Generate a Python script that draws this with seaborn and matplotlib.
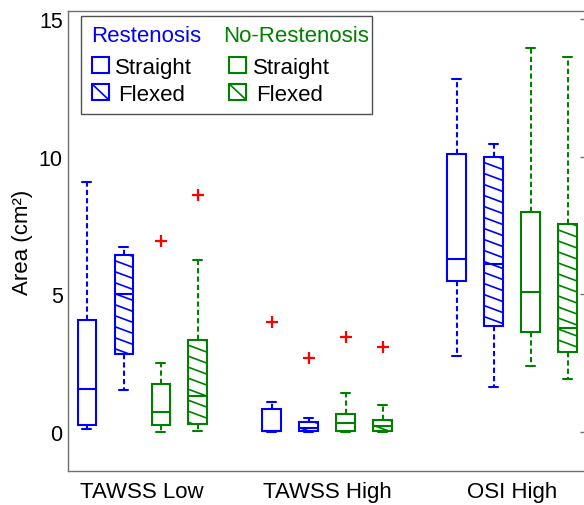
import numpy as np
import pandas as pd
import seaborn as sns
import matplotlib.pyplot as plt
from matplotlib.patches import Rectangle
from matplotlib.lines import Line2D

regions = ["TAWSS Low", "TAWSS High", "OSI High"]
series = ["Restenosis Straight", "Restenosis Flexed",
          "No-Restenosis Straight", "No-Restenosis Flexed"]

# [lower whisker, Q1, median, Q3, upper whisker] for each region
rest_straight = [[0.09, 0.27, 1.56, 4.07, 9.09],
                 [0.00, 0.02, 0.03, 0.85, 1.10],
                 [2.76, 5.47, 6.28, 10.09, 12.84]]
rest_flexed = [[1.52, 2.85, 5.03, 6.43, 6.72],
               [0.00, 0.02, 0.15, 0.36, 0.50],
               [1.65, 3.85, 6.10, 9.99, 10.45]]
norest_straight = [[0.00, 0.27, 0.74, 1.76, 2.50],
                   [0.00, 0.02, 0.34, 0.64, 1.43],
                   [2.38, 3.64, 5.09, 7.98, 13.96]]
norest_flexed = [[0.04, 0.28, 1.31, 3.35, 6.24],
                 [0.00, 0.04, 0.20, 0.44, 0.97],
                 [1.94, 2.89, 3.77, 7.54, 13.64]]

# outliers per region (None = no outlier)
rest_straight_out = [None, 3.98, None]
rest_flexed_out = [None, 2.70, None]
norest_straight_out = [6.95, 3.46, None]
norest_flexed_out = [8.60, 3.10, None]

colors = ["#0000ff", "#0000ff", "#008000", "#008000"]
hatched = [False, True, False, True]

# sample whose quartiles / whiskers reproduce the read summary values
rows = []
all_stats = [rest_straight, rest_flexed, norest_straight, norest_flexed]
all_outs = [rest_straight_out, rest_flexed_out, norest_straight_out, norest_flexed_out]
for name, stats, outs in zip(series, all_stats, all_outs):
    for region, (lo, q1, med, q3, hi), out in zip(regions, stats, outs):
        vals = [lo, q1, q1, med, med, q3, q3, hi, hi if out is None else out]
        rows += [(region, name, v) for v in vals]
df = pd.DataFrame(rows, columns=["region", "series", "area"])

sns.set_style("white")
plt.rcParams["font.family"] = ["Liberation Sans", "DejaVu Sans"]
plt.rcParams["text.color"] = "black"
plt.rcParams["axes.labelcolor"] = "black"
plt.rcParams["xtick.labelcolor"] = "black"
plt.rcParams["ytick.labelcolor"] = "black"

W, H = 584, 506
fig = plt.figure(figsize=(W / 100, H / 100), dpi=100)
ax = fig.add_axes([68.3 / W, 34 / H, (586 - 68.3) / W, (472 - 12) / H])

sns.boxplot(data=df, x="region", y="area", hue="series", order=regions,
            hue_order=series, palette=dict(zip(series, colors)), width=0.8,
            gap=0.5, linewidth=1.5, whis=1.5, legend=False, ax=ax)

ax.set_xlim(-0.4, 2.4)
ax.set_ylim(-1.42, 15.3)


def add_hatch(box, col, step=0.40, drop=0.25):
    v = box.get_path().vertices
    x0, x1 = v[:, 0].min(), v[:, 0].max()
    y0, y1 = v[:, 1].min(), v[:, 1].max()
    for y in np.arange(y1 + drop - 0.05, y0, -step):
        ln, = ax.plot([x0, x1], [y, y - drop], color=col, lw=1.2, zorder=box.get_zorder() + 0.1)
        ln.set_clip_path(box)


dash = (0, (2.5, 1.5))
for cont, col, hat in zip(ax.containers, colors, hatched):
    for box in cont.boxes:
        box.set_facecolor("white")
        box.set_edgecolor(col)
        box.set_linewidth(1.5)
        if hat:
            add_hatch(box, col)
    for ln in [*cont.medians, *cont.whiskers, *cont.caps]:
        ln.set_color(col)
        ln.set_linewidth(1.5)
    for ln in cont.whiskers:
        ln.set_linestyle(dash)
    for ln in cont.fliers:
        ln.set(marker="+", markeredgecolor="red", markerfacecolor="red",
               markersize=9, markeredgewidth=1.6)

ax.set_xlabel("")
ax.set_ylabel("Area (cm²)", fontsize=16, labelpad=4)
ax.set_yticks([0, 5, 10, 15])
ax.tick_params(axis="y", direction="in", length=4, width=1, color="#707070",
               labelsize=15.5, right=True, pad=4)
ax.tick_params(axis="x", length=0, labelsize=16, pad=7)
for s in ax.spines.values():
    s.set_color("#707070")
    s.set_linewidth(1)


# legend drawn by hand (header text sits above the handles)
def fx(x):
    return x / W


def fy(y):
    return 1 - y / H


fig.add_artist(Rectangle((fx(81), fy(115)), fx(372.3) - fx(81), fy(17.3) - fy(115),
                         transform=fig.transFigure, facecolor="white",
                         edgecolor="#505050", lw=1, zorder=5))
fs = 16
fig.text(fx(91), fy(41.7), "Restenosis", color=colors[0], fontsize=fs, zorder=6)
fig.text(fx(222.7), fy(41.7), "No-Restenosis", color=colors[2], fontsize=fs, zorder=6)
for hx, col, tx in [(92, colors[0], (115, 118)), (229.3, colors[2], (253.3, 256))]:
    for (ty0, ty1), label, tpos, hat in [((58, 74), "Straight", tx[0], False),
                                         ((85, 101), "Flexed", tx[1], True)]:
        fig.add_artist(Rectangle((fx(hx), fy(ty1)), fx(17), fy(ty0) - fy(ty1),
                                 transform=fig.transFigure, facecolor="white",
                                 edgecolor=col, lw=1.5, zorder=6))
        if hat:
            fig.add_artist(Line2D([fx(hx), fx(hx + 17)], [fy(ty0), fy(ty1)],
                                  transform=fig.transFigure, color=col, lw=1.2, zorder=7))
        fig.text(fx(tpos), fy(ty1), label, color="black", fontsize=fs, zorder=6)

fig.savefig("out.png", dpi=100)
